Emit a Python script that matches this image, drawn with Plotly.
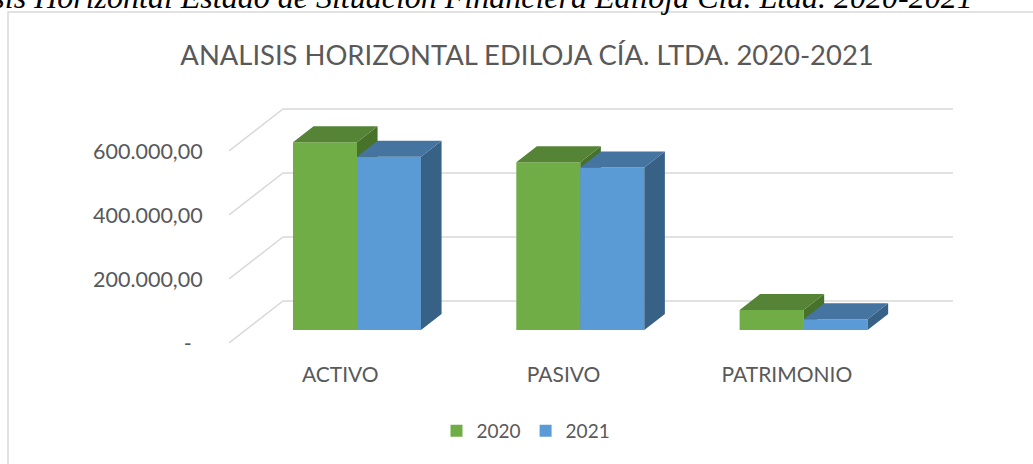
import plotly.graph_objects as go

# ---------------- data ----------------
categories = ["ACTIVO", "PASIVO", "PATRIMONIO"]
series_names = ["2020", "2021"]
values_2020 = [587000, 524000, 62500]
values_2021 = [541500, 508000, 33500]
y_tick_values = [0, 200000, 400000, 600000]
y_tick_labels = ["-\u00a0\u00a0", "200.000,00", "400.000,00", "600.000,00"]
chart_title = "ANALISIS HORIZONTAL EDILOJA CÍA. LTDA. 2020-2021"
caption = "Análisis Horizontal Estado de Situación Financiera Ediloja Cía. Ltda. 2020-2021"

# ---------------- geometry / style ----------------
W, H = 1033, 464
PLOT_L, PLOT_R, PLOT_T, PLOT_B = 229, 953, 100, 350
FIRST_CAT_PX = 357           # pixel of first category front-face centre
ZERO_PX = 330                # pixel of value 0 on bar front plane
PX_PER_CAT = 223.3
PX_PER_VAL = 64 / 200000
SLOPE = 54 / 42              # oblique projection: x px per y px of depth
BAR_DEPTH = 16
WALL_DEPTH = 29
FLOOR_FRONT = -13
BAR_W = 64 / PX_PER_CAT
PW, PH = PLOT_R - PLOT_L, PLOT_B - PLOT_T

FONT = "Lato"
TXT = "#595959"
GRID = "#D9D9D9"
COLORS = {
    "2020": dict(front="#70AD47", top="#558437", side="#47722A"),
    "2021": dict(front="#5B9BD5", top="#44749F", side="#386186"),
}


def shift(d):
    return d * SLOPE / PX_PER_CAT, d / PX_PER_VAL


def px_x(p):  # page pixel -> paper x
    return (p - PLOT_L) / PW


def px_y(p):  # page pixel -> paper y
    return (PLOT_B - p) / PH


x0 = (PLOT_L - FIRST_CAT_PX) / PX_PER_CAT
x1 = (PLOT_R - FIRST_CAT_PX) / PX_PER_CAT
y0 = (ZERO_PX - PLOT_B) / PX_PER_VAL
y1 = (ZERO_PX - PLOT_T) / PX_PER_VAL

fig = go.Figure()

# ---- gridlines (base subplot) ----
fdx, fdy = shift(FLOOR_FRONT)
wdx, wdy = shift(WALL_DEPTH)
gx, gy = [], []
for v in y_tick_values:
    bx = x0 + (wdx - fdx)
    gx += [x0, bx, x1, None]
    gy += [v + fdy, v + wdy, v + wdy, None]
fig.add_trace(go.Scatter(x=gx, y=gy, mode="lines", line=dict(color=GRID, width=1.5),
                         hoverinfo="skip", showlegend=False, xaxis="x", yaxis="y"))

# ---- 3D bars: one overlaid subplot per series ----
bdx, bdy = shift(BAR_DEPTH)
for k, (name, vals) in enumerate(zip(series_names, [values_2020, values_2021])):
    xa, ya = f"x{k + 2}", f"y{k + 2}"
    c = COLORS[name]
    off = -BAR_W if k == 0 else 0.0
    tx, ty, sx, sy = [], [], [], []
    for i, v in enumerate(vals):
        xl = i + off
        xr = xl + BAR_W
        tx += [xl, xr, xr + bdx, xl + bdx, xl, None]
        ty += [v, v, v + bdy, v + bdy, v, None]
        sx += [xr, xr, xr + bdx, xr + bdx, xr, None]
        sy += [0, v, v + bdy, bdy, 0, None]
    fig.add_trace(go.Scatter(x=sx, y=sy, mode="lines", fill="toself", fillcolor=c["side"],
                             line=dict(width=0), hoverinfo="skip", showlegend=False,
                             xaxis=xa, yaxis=ya))
    fig.add_trace(go.Scatter(x=tx, y=ty, mode="lines", fill="toself", fillcolor=c["top"],
                             line=dict(width=0), hoverinfo="skip", showlegend=False,
                             xaxis=xa, yaxis=ya))
    fig.add_trace(go.Bar(x=list(range(len(categories))), y=vals, width=BAR_W, offset=off,
                         name=name, marker=dict(color=c["front"], line=dict(width=0)),
                         xaxis=xa, yaxis=ya))

hidden = dict(range=[x0, x1], visible=False, fixedrange=True)
hiddeny = dict(range=[y0, y1], visible=False, fixedrange=True)

fig.update_layout(
    width=W, height=H, autosize=False,
    margin=dict(l=PLOT_L, r=W - PLOT_R, t=PLOT_T, b=H - PLOT_B, pad=0),
    paper_bgcolor="white", plot_bgcolor="white",
    barmode="overlay",
    font=dict(family=FONT, color=TXT),
    title=dict(text=chart_title, x=527 / W, xref="container", xanchor="center",
               y=1 - 55 / H, yref="container", yanchor="middle",
               font=dict(family=FONT, size=27.4, color=TXT)),
    xaxis=dict(range=[x0, x1], showgrid=False, zeroline=False, showline=False,
               tickvals=[i + fdx for i in range(len(categories))], ticktext=categories,
               ticks="outside", ticklen=6, tickcolor="rgba(0,0,0,0)",
               tickfont=dict(family=FONT, size=21, color=TXT), fixedrange=True),
    yaxis=dict(range=[y0, y1], showgrid=False, zeroline=False, showline=False,
               tickvals=[v + fdy for v in y_tick_values], ticktext=y_tick_labels,
               ticks="outside", ticklen=21, tickcolor="rgba(0,0,0,0)",
               tickfont=dict(family=FONT, size=21.5, color=TXT), fixedrange=True),
    xaxis2=dict(overlaying="x", **hidden), yaxis2=dict(overlaying="y", **hiddeny),
    xaxis3=dict(overlaying="x", **hidden), yaxis3=dict(overlaying="y", **hiddeny),
    legend=dict(orientation="h", x=px_x(526), xanchor="center",
                y=px_y(431), yanchor="middle", itemwidth=30,
                font=dict(family=FONT, size=19, color=TXT), bgcolor="rgba(0,0,0,0)"),
    showlegend=True,
)

# chart area border
fig.add_shape(type="rect", xref="paper", yref="paper",
              x0=px_x(8), x1=px_x(1045), y0=px_y(475), y1=px_y(12),
              line=dict(color=GRID, width=1.5), fillcolor="rgba(0,0,0,0)", layer="below")

# caption above the chart (partly cut off at the page top, as in the source)
fig.add_annotation(text=caption, xref="paper", yref="paper",
                   x=px_x(975), xanchor="right",
                   y=px_y(17), yanchor="bottom",
                   showarrow=False,
                   font=dict(family="Liberation Serif", size=32, color="black", style="italic"))

fig.write_html("out.html", config={"displayModeBar": False},
               post_script="document.body.style.margin='0';")
